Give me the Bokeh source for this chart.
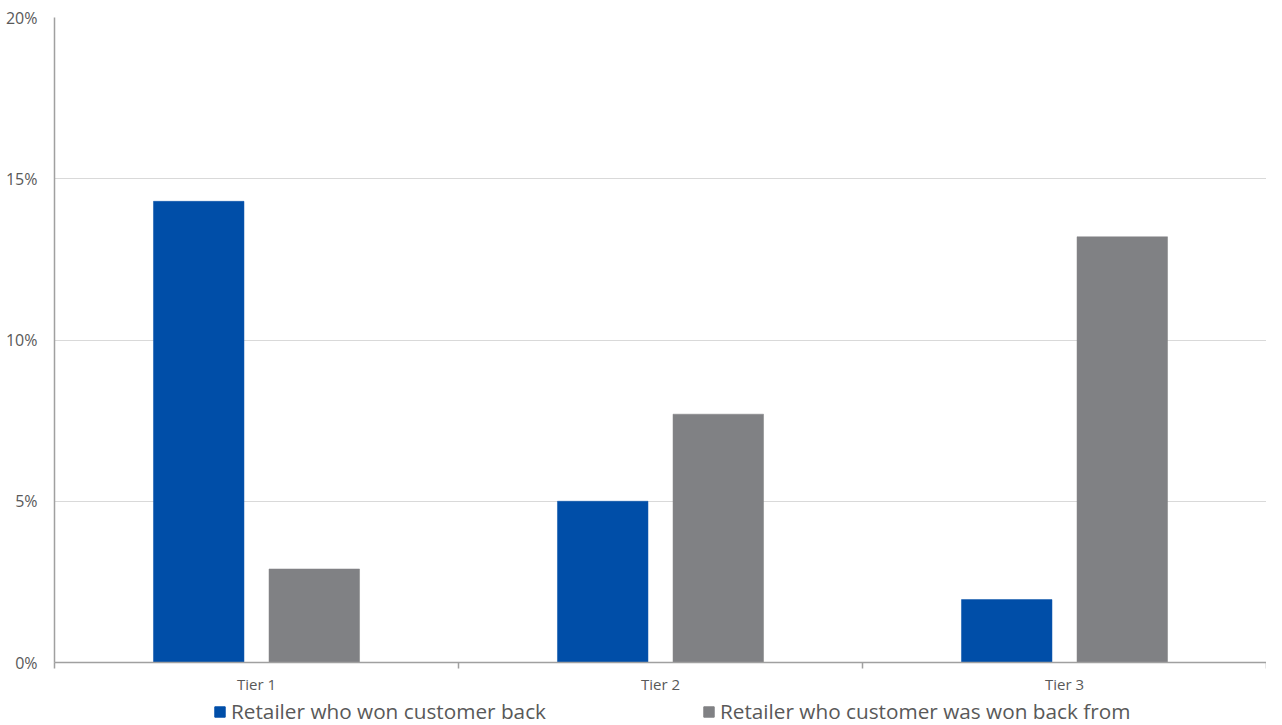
from bokeh.plotting import figure
from bokeh.models import ColumnDataSource, FixedTicker, Range1d, Legend, LegendItem
from bokeh.layouts import column
from bokeh.embed import file_html
from bokeh.resources import INLINE

categories = ["Tier 1", "Tier 2", "Tier 3"]
won_back = [14.3, 5.0, 1.95]
won_back_from = [2.9, 7.7, 13.2]
series_names = ["Retailer who won customer back", "Retailer who customer was won back from"]
y_ticks = [0, 5, 10, 15, 20]

FONT = "Open Sans"
TXT = "#595959"
BLUE = "#004EA8"
GREY = "#808184"

centers = [i + 0.5 for i in range(len(categories))]
offset = 0.143
bw = 0.224

src1 = ColumnDataSource(dict(x=[c - offset for c in centers], top=won_back))
src2 = ColumnDataSource(dict(x=[c + offset for c in centers], top=won_back_from))

p = figure(width=1266, height=696, output_backend="svg", toolbar_location=None,
           x_range=Range1d(0, len(categories)), y_range=Range1d(0, 20),
           min_border_left=54, min_border_right=0, min_border_top=17, min_border_bottom=0)
p.outline_line_color = None

p.vbar(x="x", top="top", width=bw, source=src1, fill_color=BLUE, line_color=BLUE, line_width=0.5)
p.vbar(x="x", top="top", width=bw, source=src2, fill_color=GREY, line_color=GREY, line_width=0.5)

# x axis
p.xaxis.ticker = FixedTicker(ticks=centers, minor_ticks=list(range(len(categories) + 1)))
p.xaxis.major_label_overrides = {c: cat for c, cat in zip(centers, categories)}
p.xaxis.major_tick_line_color = None
p.xaxis.major_tick_out = 6
p.xaxis.major_tick_in = 0
p.xaxis.minor_tick_out = 6
p.xaxis.minor_tick_in = 0
p.xaxis.minor_tick_line_color = "#a0a0a0"
p.xaxis.minor_tick_line_width = 1.5
p.xaxis.axis_line_color = "#a0a0a0"
p.xaxis.axis_line_width = 1.5
p.xaxis.major_label_standoff = 5
p.xaxis.major_label_text_font = FONT
p.xaxis.major_label_text_font_size = "15px"
p.xaxis.major_label_text_color = TXT

# y axis
p.yaxis.ticker = FixedTicker(ticks=y_ticks)
p.yaxis.major_label_overrides = {t: f"{t}%" for t in y_ticks}
p.yaxis.major_tick_line_color = None
p.yaxis.major_tick_out = 0
p.yaxis.major_tick_in = 0
p.yaxis.minor_tick_line_color = None
p.yaxis.axis_line_color = "#a0a0a0"
p.yaxis.axis_line_width = 1.5
p.yaxis.major_label_standoff = 17
p.yaxis.major_label_text_font = FONT
p.yaxis.major_label_text_font_size = "16px"
p.yaxis.major_label_text_color = TXT

p.xgrid.grid_line_color = None
p.ygrid.grid_line_color = "#d9d9d9"
p.ygrid.grid_line_width = 1

# legend strip (same data; the bars fall outside this strip's visible range)
pl = figure(width=1266, height=29, output_backend="svg", toolbar_location=None,
            x_range=Range1d(0, len(categories)), y_range=Range1d(100, 101),
            min_border_left=54, min_border_right=0, min_border_top=0, min_border_bottom=0)
pl.outline_line_color = None
pl.axis.visible = False
pl.grid.visible = False
l1 = pl.vbar(x="x", top="top", width=bw, source=src1, fill_color=BLUE, line_color=BLUE)
l2 = pl.vbar(x="x", top="top", width=bw, source=src2, fill_color=GREY, line_color=GREY)

legend = Legend(items=[LegendItem(label=series_names[0], renderers=[l1]),
                       LegendItem(label=series_names[1], renderers=[l2])],
                orientation="horizontal", location=(159, 0),
                glyph_width=13, glyph_height=13, label_standoff=5, spacing=156,
                label_height=20,
                label_text_font=FONT, label_text_font_size="20.75px", label_text_color=TXT,
                border_line_color=None, background_fill_alpha=0,
                margin=0, padding=0)
pl.add_layout(legend, "center")

layout = column(p, pl, spacing=0)
open("out.html", "w").write(file_html(layout, INLINE))
